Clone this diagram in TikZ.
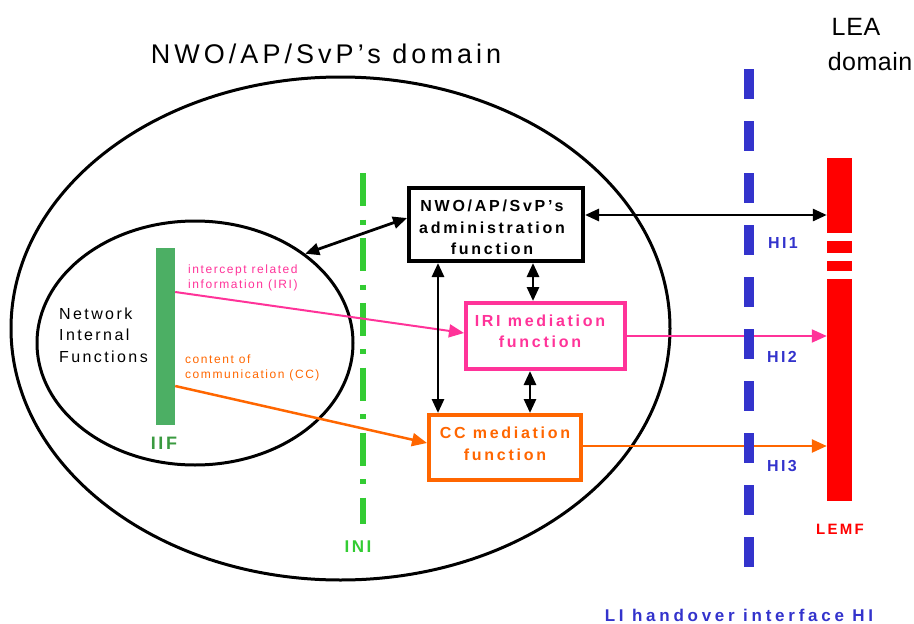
\documentclass[tikz,border=0pt]{standalone}
\usepackage{fontspec}
\setmainfont{Liberation Sans}
\newfontfamily\lsfont[LetterSpace=15]{Liberation Sans}
\usetikzlibrary{arrows.meta,shapes.geometric}
\definecolor{ipink}{HTML}{FF3399}
\definecolor{iorange}{HTML}{FF6600}
\definecolor{ired}{HTML}{FF0000}
\definecolor{iblue}{HTML}{3333CC}
\definecolor{igreen}{HTML}{33CC33}
\definecolor{iifgreen}{HTML}{4CAF64}
\definecolor{iiftext}{HTML}{3A9A40}
\newcommand\fsz[2]{\fontsize{#1}{#2}\selectfont}
\newcommand\lsp[1]{\addfontfeature{LetterSpace=#1}}
\tikzset{
  both/.style={line width=2.8pt,{Triangle[length=14pt,width=12pt]}-{Triangle[length=14pt,width=12pt]}},
  one/.style={-{Triangle[length=15pt,width=13pt]}},
  fnbox/.style={draw,line width=4pt,fill=white,inner sep=0pt},
  boxtext/.style={font=\lsfont\bfseries\fsz{16}{21.5}\lsp{17},align=center,inner sep=0pt},
  lbl/.style={inner sep=0pt},
}
\begin{document}
\begin{tikzpicture}[x=1pt,y=-1pt]
\useasboundingbox (0,0) rectangle (914,624);
% domains
\node[ellipse,draw,line width=3pt,minimum width=659pt,minimum height=503pt,inner sep=0pt] (dom) at (340.5,328.5) {};
\node[ellipse,draw,line width=3pt,minimum width=316pt,minimum height=244pt,inner sep=0pt] (nif) at (195,343) {};
\node[lbl,anchor=base,font=\lsfont\fsz{27}{30}] (title) at (326,63) {NWO/AP/SvP’s domain};
\node[lbl,anchor=base,font=\lsfont\fsz{25}{30}\lsp{3}] (lea) at (856,35) {LEA};
\node[lbl,anchor=base,font=\lsfont\fsz{25}{30}\lsp{2}] (lead) at (870,70) {domain};
\node[lbl,anchor=west,align=left,font=\lsfont\fsz{16}{21.5}] (nift) at (59,335) {Network\\Internal\\Functions};
% INI line
\coordinate (initop) at (363,173);
\coordinate (inibot) at (363,524);
\draw[igreen,line width=6pt,dash pattern=on 33.3pt off 13.3pt on 5pt off 13.3pt] (initop) -- (inibot);
\node[lbl,anchor=base,text=igreen,font=\lsfont\bfseries\fsz{17}{20}] (ini) at (358,552) {INI};
% IIF
\node[fill=iifgreen,minimum width=19pt,minimum height=177pt,inner sep=0pt] (iif) at (165.5,336.5) {};
\node[lbl,anchor=base,text=iiftext,font=\lsfont\bfseries\fsz{18}{20}] (iiflbl) at (164,449) {IIF};
\node[lbl,anchor=west,align=left,text=ipink,font=\lsfont\fsz{12}{15}\lsp{13}] (irilbl) at (188,278) {intercept related\\information (IRI)};
\node[lbl,anchor=west,align=left,text=iorange,font=\lsfont\fsz{12}{15}\lsp{13}] (cclbl) at (185,368) {content of\\communication (CC)};
% LEMF
\node[fill=ired,minimum width=25pt,minimum height=343pt,inner sep=0pt] (lemf) at (839.5,329.5) {};
\fill[white] (825,233) rectangle (854,241);
\fill[white] (825,253) rectangle (854,261);
\fill[white] (825,271) rectangle (854,279);
\node[lbl,anchor=base,text=ired,font=\lsfont\bfseries\fsz{15}{18}] (lemflbl) at (840,534) {LEMF};
% boxes
\node[fnbox,minimum width=174pt,minimum height=73pt] (admin) at (496,224.5) {};
\node[fnbox,draw=ipink,minimum width=159pt,minimum height=66pt] (iri) at (545.5,336) {};
\node[fnbox,draw=iorange,minimum width=152pt,minimum height=65pt] (cc) at (505,447.5) {};
\node[boxtext] (admint) at (492,227.5) {NWO/AP/SvP’s\\administration\\function};
\node[boxtext,text=ipink] (irit) at (540,331.5) {IRI mediation\\function};
\node[boxtext,text=iorange] (cct) at (505,444) {CC mediation\\function};
% arrows
\draw[ipink,line width=2pt,one] ([yshift=44.5pt]iif.east) -- ([yshift=3pt]iri.west);
\draw[iorange,line width=2.5pt,one] ([yshift=-49.5pt]iif.east) -- ([yshift=4.5pt]cc.west);
\draw[both] (nif.39) -- ([yshift=6.5pt]admin.west);
\draw[both] ([yshift=9.5pt]admin.east) -- ([yshift=9.5pt]admin.east -| lemf.west);
\draw[both] ([xshift=37pt]admin.south) -- ([xshift=-12.5pt]iri.north);
\draw[both] ([xshift=-58pt]admin.south) -- ([xshift=-67pt]cc.north);
\draw[both] ([xshift=-15.5pt]iri.south) -- ([xshift=25pt]cc.north);
\draw[ipink,line width=2pt,one] (iri.east) -- (iri.east -| lemf.west);
\draw[iorange,line width=2.5pt,one] ([yshift=1.5pt]cc.east) -- ([yshift=1.5pt]cc.east -| lemf.west);
% HI line
\coordinate (hitop) at (749,69);
\coordinate (hibot) at (749,568);
\draw[iblue,line width=10pt,dash pattern=on 30pt off 22pt] (hitop) -- (hibot);
\node[lbl,anchor=base,text=iblue,font=\lsfont\bfseries\fsz{16}{18}] (hi1) at (783,248) {HI1};
\node[lbl,anchor=base,text=iblue,font=\lsfont\bfseries\fsz{16}{18}] (hi2) at (782,362) {HI2};
\node[lbl,anchor=base,text=iblue,font=\lsfont\bfseries\fsz{16}{18}] (hi3) at (782,471) {HI3};
\node[lbl,anchor=base,text=iblue,font=\lsfont\bfseries\fsz{17}{18}\lsp{22}] (hilbl) at (739,621.5) {LI handover interface HI};
\end{tikzpicture}
\end{document}
